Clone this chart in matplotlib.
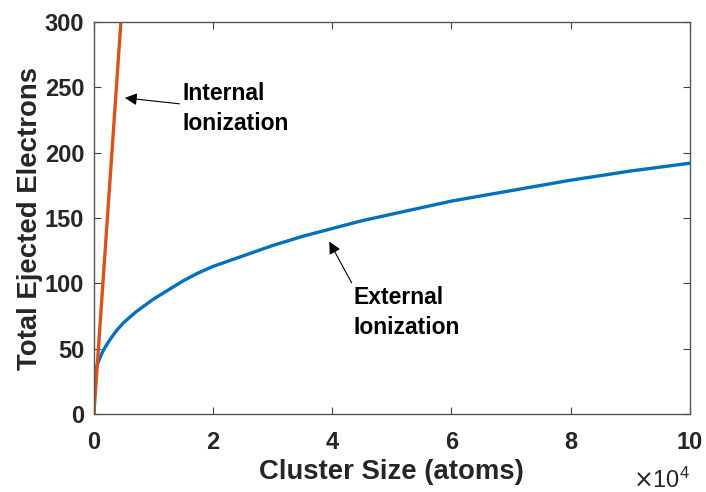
import numpy as np
import matplotlib.pyplot as plt

plt.rcParams['font.family'] = ['Liberation Sans', 'DejaVu Sans']

# cluster size (atoms) and ejected electrons
size_ext = [0, 20, 50, 100, 200, 500, 1000, 1500, 2000, 3000, 4000, 5000, 6000, 7000,
            8500, 10000, 12500, 15000, 17500, 20000, 25000, 30000, 35000, 40000,
            45000, 50000, 60000, 70000, 80000, 90000, 100000]
elec_ext = [0, 14, 20, 26, 31, 37, 43, 48, 52, 59, 65, 70, 74, 78,
            83, 88, 95, 102, 108, 113, 121, 129, 136, 142,
            148, 153, 163, 171, 179, 186, 192]

size_int = [0, 5000]
elec_int = [0, 331]

xticks = [0, 20000, 40000, 60000, 80000, 100000]
xlabels = ['0', '2', '4', '6', '8', '10']
yticks = [0, 50, 100, 150, 200, 250, 300]

fig = plt.figure(figsize=(7.06, 4.92), dpi=100)
ax = fig.add_axes([0.133, 0.1585, 0.844, 0.7965])

ax.plot(size_ext, elec_ext, color='#0072BD', lw=2.4, solid_capstyle='round')
ax.plot(size_int, elec_int, color='#D95319', lw=2.4)

ax.set_xlim(0, 100000)
ax.set_ylim(0, 300)
ax.set_xticks(xticks)
ax.set_xticklabels(xlabels)
ax.set_yticks(yticks)
ax.tick_params(direction='in', top=True, right=True, length=5, width=0.8,
               colors='#404040', labelcolor='#262626', labelsize=17)
ax.tick_params(axis='x', pad=12)
ax.tick_params(axis='y', pad=7)
for lab in ax.get_xticklabels() + ax.get_yticklabels():
    lab.set_fontweight('bold')
for s in ax.spines.values():
    s.set_color('#555555')
    s.set_linewidth(1.0)

ax.set_xlabel('Cluster Size (atoms)', fontsize=19.8, fontweight='bold', color='#262626', labelpad=4)
ax.set_ylabel('Total Ejected Electrons', fontsize=19.8, fontweight='bold', color='#262626', labelpad=1)

ax.text(1.0, -0.17, r'$\times\mathregular{10^4}$', transform=ax.transAxes,
        ha='right', va='center', fontsize=17, color='#262626')

ax.annotate('Internal\nIonization', xy=(5200, 242), xytext=(14800, 234),
            fontsize=16.5, fontweight='bold', color='black', va='center', ha='left',
            linespacing=1.4,
            arrowprops=dict(arrowstyle='-|>', color='black', lw=0.8,
                            mutation_scale=18, shrinkA=0, shrinkB=0,
                            relpos=(0, 0.58)))
ax.annotate('External\nIonization', xy=(39500, 132), xytext=(43500, 78),
            fontsize=16.5, fontweight='bold', color='black', va='center', ha='left',
            linespacing=1.4,
            arrowprops=dict(arrowstyle='-|>', color='black', lw=0.8,
                            mutation_scale=18, shrinkA=0, shrinkB=0,
                            relpos=(0, 1.0)))

fig.savefig('out.png', dpi=100)
